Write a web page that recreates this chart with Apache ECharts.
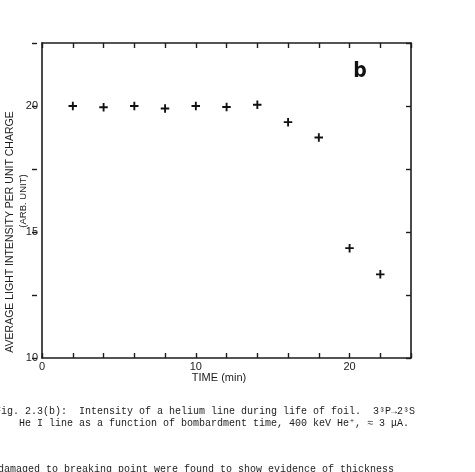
<!DOCTYPE html>
<html>
<head>
<meta charset="utf-8">
<script src="https://cdn.jsdelivr.net/npm/echarts@6/dist/echarts.min.js"></script>
<style>
  html, body { margin: 0; padding: 0; background: #fff; }
  #chart { width: 475px; height: 472px; }
</style>
</head>
<body>
<div id="chart"></div>
<script>
// bombardment time (min) and light intensity per unit charge (arb. unit)
const times = [2, 4, 6, 8, 10, 12, 14, 16, 18, 20, 22];
const intensity = [20.0, 19.95, 20.0, 19.9, 20.0, 19.96, 20.05, 19.36, 18.75, 14.36, 13.32];
const xTickLabels = [0, 10, 20];
const yTickLabels = [10, 15, 20];

const ink = '#1c1c1c';
const chart = echarts.init(document.getElementById('chart'));

const H = 472;
const plot = { left: 42, right: 64, top: 43, bottom: 114 };
const bottomY = H - plot.bottom;

// plus-sign marker
const plus = 'path://M4,0h2.2v3.9h3.8v2.2h-3.8v3.9h-2.2v-3.9h-4v-2.2h4z';

// onZero off, otherwise the right axis snaps onto x = 0
const axisLine = () => ({ show: true, onZero: false, lineStyle: { color: ink, width: 1.6 } });
const tick = inside => ({ show: true, inside, length: 5, lineStyle: { color: ink, width: 1.4 } });

const xBase = { type: 'value', min: 0, max: 24, interval: 2, splitLine: { show: false } };
const yBase = { type: 'value', min: 10, max: 22.5, interval: 2.5, splitLine: { show: false } };

const option = {
  animation: false,
  backgroundColor: '#fff',
  grid: [
    plot,
    // thin strip whose top edge is the plot's bottom edge: its top axis ticks point up into the plot
    { left: plot.left, right: plot.right, top: bottomY, height: 10 },
    // thin strip whose right edge is the plot's left edge: its right axis ticks point into the plot
    { left: plot.left - 10, width: 10, top: plot.top, bottom: plot.bottom }
  ],
  xAxis: [
    {
      ...xBase, gridIndex: 0, position: 'bottom', axisLine: axisLine(), axisTick: { show: false },
      axisLabel: {
        color: ink, fontSize: 11, margin: 3, fontFamily: 'Liberation Sans, Arial, sans-serif',
        formatter: v => xTickLabels.includes(v) ? String(v) : ''
      }
    },
    { ...xBase, gridIndex: 0, position: 'top', axisLine: axisLine(), axisTick: tick(true), axisLabel: { show: false } },
    { ...xBase, gridIndex: 1, position: 'top', axisLine: { show: false }, axisTick: tick(false), axisLabel: { show: false } },
    { ...xBase, gridIndex: 2, show: false }
  ],
  yAxis: [
    {
      ...yBase, gridIndex: 0, position: 'left', axisLine: axisLine(), axisTick: { show: false },
      axisLabel: {
        color: ink, fontSize: 11, margin: 4, fontFamily: 'Liberation Sans, Arial, sans-serif',
        formatter: v => yTickLabels.includes(v) ? String(v) : ''
      }
    },
    { ...yBase, gridIndex: 0, position: 'right', axisLine: axisLine(), axisTick: tick(true), axisLabel: { show: false } },
    { ...yBase, gridIndex: 1, show: false },
    { ...yBase, gridIndex: 2, position: 'right', axisLine: { show: false }, axisTick: tick(false), axisLabel: { show: false } }
  ],
  series: [
    {
      type: 'scatter',
      xAxisIndex: 0,
      yAxisIndex: 0,
      data: times.map((t, i) => [t, intensity[i]]),
      symbol: plus,
      symbolSize: 8.5,
      itemStyle: { color: '#111', opacity: 1 }
    }
  ],
  graphic: [
    {
      type: 'text', x: 10, y: 232, rotation: Math.PI / 2,
      style: {
        text: 'AVERAGE LIGHT INTENSITY PER UNIT CHARGE', fill: ink,
        font: '10.5px "Liberation Sans", Arial, sans-serif', align: 'center', verticalAlign: 'middle'
      }
    },
    {
      type: 'text', x: 23.5, y: 201, rotation: Math.PI / 2,
      style: {
        text: '(ARB. UNIT)', fill: ink,
        font: '9.5px "Liberation Sans", Arial, sans-serif', align: 'center', verticalAlign: 'middle'
      }
    },
    {
      type: 'text', x: 219, y: 378,
      style: {
        text: 'TIME (min)', fill: ink,
        font: '11px "Liberation Sans", Arial, sans-serif', align: 'center', verticalAlign: 'middle'
      }
    },
    {
      type: 'text', x: 360, y: 72,
      style: {
        text: 'b', fill: '#111',
        font: 'bold 21px "DejaVu Sans Condensed", "Liberation Sans Narrow", sans-serif',
        align: 'center', verticalAlign: 'middle'
      }
    },
    {
      type: 'text', x: -5, y: 411,
      style: {
        text: 'Fig. 2.3(b):  Intensity of a helium line during life of foil.  3³P→2³S', fill: ink,
        font: '10px "Liberation Mono", monospace', verticalAlign: 'middle'
      }
    },
    {
      type: 'text', x: 19, y: 423,
      style: {
        text: 'He I line as a function of bombardment time, 400 keV He⁺, ≈ 3 μA.', fill: ink,
        font: '10px "Liberation Mono", monospace', verticalAlign: 'middle'
      }
    },
    {
      type: 'text', x: -2, y: 469,
      style: {
        text: 'damaged to breaking point were found to show evidence of thickness', fill: ink,
        font: '10px "Liberation Mono", monospace', verticalAlign: 'middle'
      }
    }
  ]
};

chart.setOption(option);
</script>
</body>
</html>
